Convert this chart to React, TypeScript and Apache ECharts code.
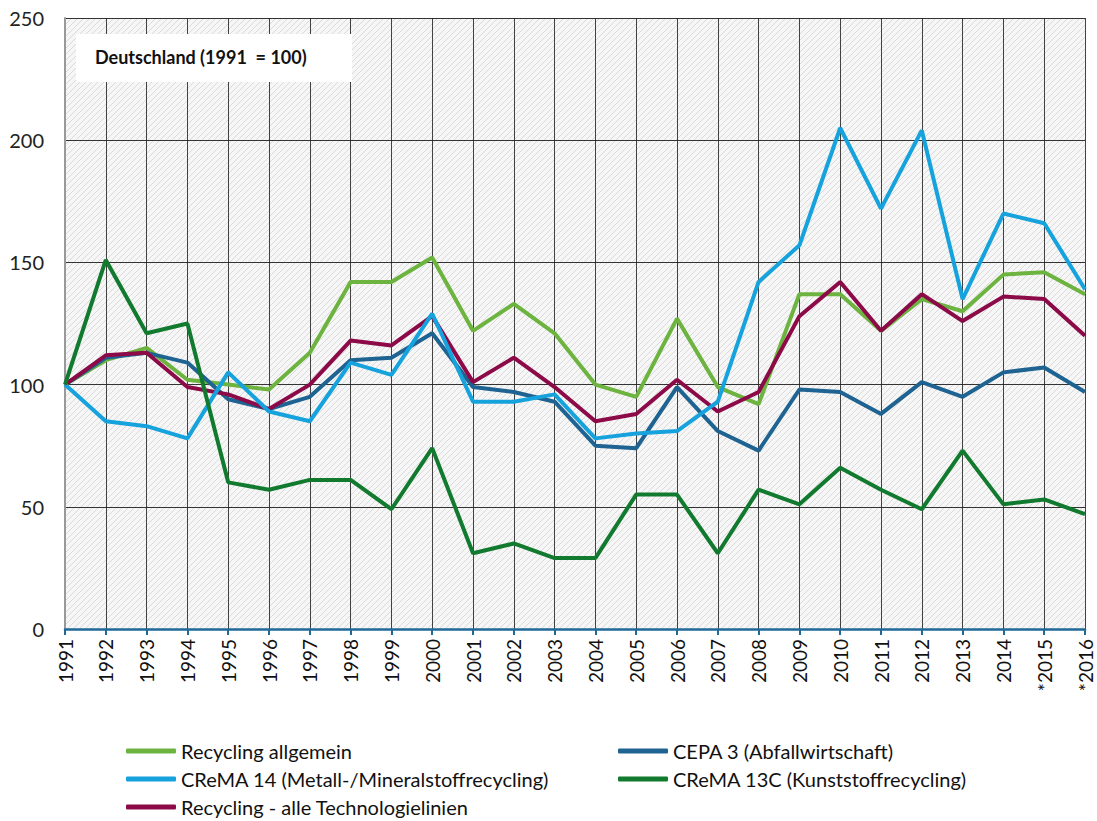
import React, { useEffect, useRef } from "react";
import * as echarts from "echarts";

const years = ["1991","1992","1993","1994","1995","1996","1997","1998","1999","2000","2001","2002","2003","2004","2005","2006","2007","2008","2009","2010","2011","2012","2013","2014","*2015","*2016"];

const recyclingAllgemein = [100,110,115,102,100,98,113,142,142,152,122,133,121,100,95,127,99,92,137,137,122,135,130,145,146,137];
const cepa3 = [100,111,113,109,94,90,95,110,111,121,99,97,93,75,74,99,81,73,98,97,88,101,95,105,107,97];
const crema14 = [100,85,83,78,105,89,85,109,104,129,93,93,96,78,80,81,93,142,157,205,172,204,135,170,166,139];
const crema13c = [100,151,121,125,60,57,61,61,49,74,31,35,29,29,55,55,31,57,51,66,57,49,73,51,53,47];
const alleTech = [100,112,113,99,96,90,100,118,116,128,101,111,99,85,88,102,89,97,128,142,122,137,126,136,135,120];

const yTicks = [0, 50, 100, 150, 200, 250];

const names = {
  allg: "Recycling allgemein",
  cepa: "CEPA 3 (Abfallwirtschaft)",
  c14: "CReMA 14 (Metall-/Mineralstoffrecycling)",
  c13: "CReMA 13C (Kunststoffrecycling)",
  alle: "Recycling - alle Technologielinien",
};

const colors = {
  allg: "#6cb33f",
  cepa: "#1e6391",
  c14: "#16a2dc",
  c13: "#117a2f",
  alle: "#8b0a47",
};

function makeHatch() {
  const c = document.createElement("canvas");
  c.width = 6;
  c.height = 6;
  const ctx = c.getContext("2d")!;
  ctx.fillStyle = "#f6f6f6";
  ctx.fillRect(0, 0, 6, 6);
  ctx.strokeStyle = "#dadada";
  ctx.lineWidth = 1;
  ctx.beginPath();
  ctx.moveTo(-1, 7); ctx.lineTo(7, -1);
  ctx.moveTo(-4, 4); ctx.lineTo(4, -4);
  ctx.moveTo(2, 10); ctx.lineTo(10, 2);
  ctx.stroke();
  return c;
}

export default function App() {
  const ref = useRef<HTMLDivElement>(null);
  useEffect(() => {
    const chart = echarts.init(ref.current!, null, { renderer: "svg" });
    const font = "Lato";
    const mk = (key: keyof typeof names, data: number[]) => ({
      name: names[key],
      type: "line",
      data,
      symbol: "none",
      lineStyle: { width: 4, color: colors[key] },
      itemStyle: { color: colors[key] },
    });
    const legendBase = {
      orient: "vertical",
      top: 741,
      height: 100,
      padding: 0,
      icon: "roundRect",
      itemWidth: 50,
      itemHeight: 5,
      itemGap: 8,
      textStyle: { fontSize: 20, color: "#111", lineHeight: 20, fontFamily: font },
    };
    chart.setOption({
      animation: false,
      textStyle: { fontFamily: font },
      grid: {
        left: 65, right: 12, top: 18, bottom: 192,
        show: true,
        borderWidth: 0,
        backgroundColor: { image: makeHatch(), repeat: "repeat" },
      },
      xAxis: {
        type: "category",
        data: years,
        boundaryGap: false,
        axisLine: { lineStyle: { color: "#1f6a98", width: 2.5 } },
        axisTick: { show: true, length: 6, lineStyle: { color: "#1f6a98", width: 2 } },
        splitLine: { show: true, lineStyle: { color: "#222", width: 1, opacity: 0.85 } },
        axisLabel: { rotate: 90, fontSize: 19, color: "#111", margin: 10, fontFamily: font },
      },
      yAxis: {
        type: "value",
        min: yTicks[0],
        max: yTicks[yTicks.length - 1],
        interval: 50,
        axisLine: { show: true, lineStyle: { color: "#999", width: 2 } },
        axisTick: { show: false },
        splitLine: { show: true, lineStyle: { color: "#333", width: 1 } },
        axisLabel: { fontSize: 20, color: "#222", margin: 21, fontFamily: font },
      },
      legend: [
        { ...legendBase, data: [names.allg, names.c14, names.alle], left: 126 },
        { ...legendBase, data: [names.cepa, names.c13], left: 618 },
      ],
      graphic: [
        {
          type: "rect",
          shape: { x: 76, y: 34, width: 276, height: 48 },
          style: { fill: "#ffffff" },
          z: 100,
        },
        {
          type: "text",
          x: 95,
          y: 57,
          z: 101,
          style: {
            text: "Deutschland (1991  = 100)",
            font: "bold 18px Lato",
            fill: "#111",
            textVerticalAlign: "middle",
          },
        },
      ],
      series: [
        mk("allg", recyclingAllgemein),
        mk("cepa", cepa3),
        mk("alle", alleTech),
        mk("c14", crema14),
        mk("c13", crema13c),
      ],
    });
    return () => chart.dispose();
  }, []);
  return (
    <div
      ref={ref}
      style={{ position: "fixed", left: 0, top: 0, width: 1097, height: 821, background: "#fff" }}
    />
  );
}
